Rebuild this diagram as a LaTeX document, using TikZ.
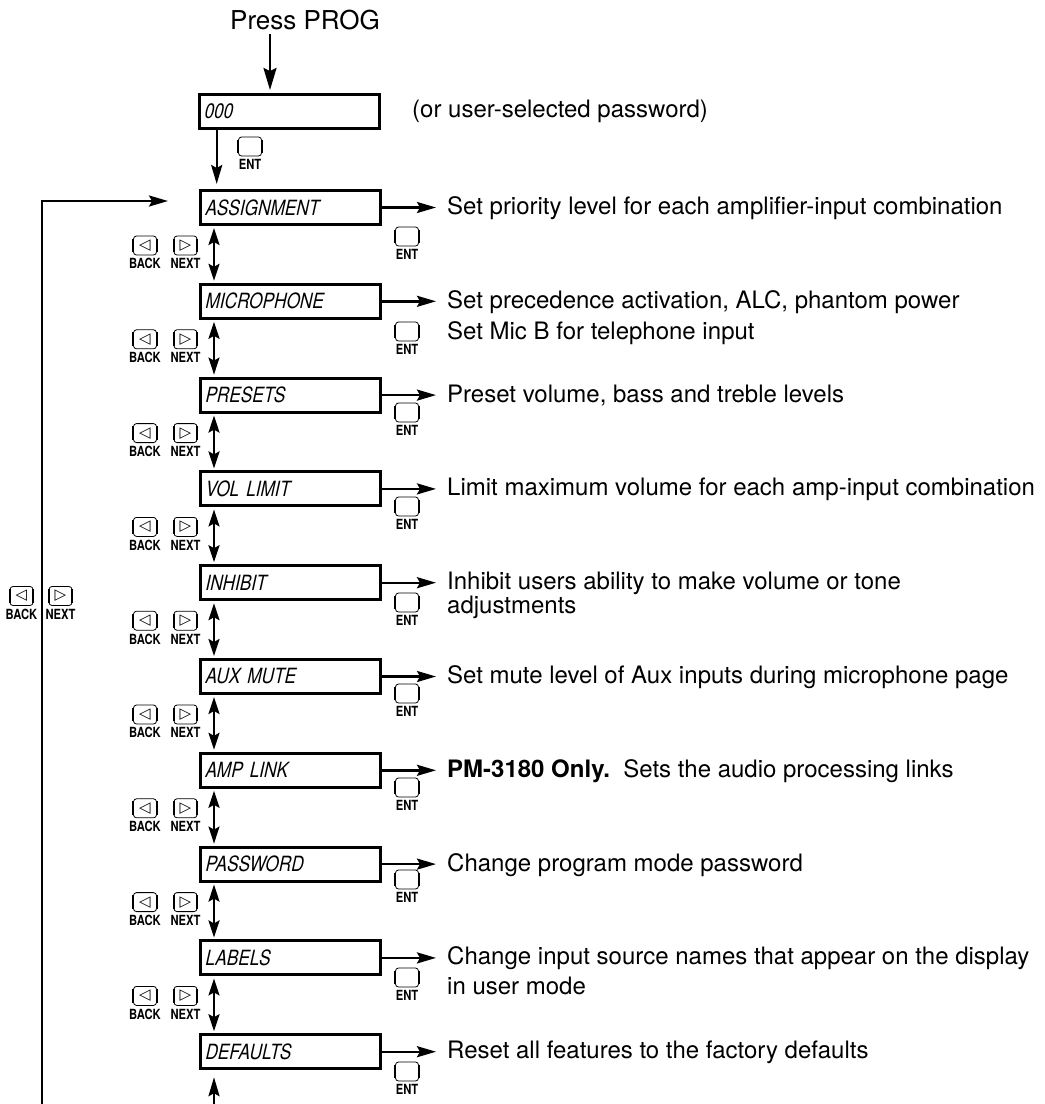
\documentclass[tikz,border=0pt]{standalone}
\usepackage{fontspec}
\setmainfont{TeX Gyre Heros}
\newfontfamily\lcdfont[FakeSlant=0.22,FakeStretch=0.82]{TeX Gyre Heros}
\newfontfamily\keyfont[FakeStretch=0.8]{TeX Gyre Heros}
\newfontfamily\symfont{DejaVu Sans}
\usetikzlibrary{arrows.meta}
\tikzset{
  lcd/.style={draw, line width=3pt, minimum height=34pt, text width=172pt, inner sep=4pt,
    align=left, anchor=north west, font=\lcdfont\fontsize{21}{22}\selectfont},
  desc/.style={anchor=base west, inner sep=0pt, font=\fontsize{24}{29}\selectfont},
  arr/.style={-{Stealth[length=19pt,width=11pt,inset=3pt]}, line width=2.4pt},
  bigarr/.style={-{Stealth[length=22pt,width=13pt,inset=3pt]}, line width=2.4pt},
  darr/.style={{Stealth[length=17pt,width=11pt,inset=3pt]}-{Stealth[length=17pt,width=11pt,inset=3pt]}, line width=2.4pt, shorten <=2pt, shorten >=2pt},
  keybox/.style={draw, rounded corners=3pt, line width=0.8pt, minimum width=23pt, minimum height=19pt,
    inner sep=0pt, font=\symfont\fontsize{15}{15}\selectfont},
  keylbl/.style={anchor=north, inner sep=0pt, font=\keyfont\bfseries\fontsize{14}{14}\selectfont}
}
\newcommand\keyicon[4]{% name, center, glyph, label
  \node[keybox] (#1) at (#2) {#3};
  \draw[line width=2pt] ([yshift=-3pt]#1.north west) -- ([yshift=3pt]#1.south west)
    ([yshift=-3pt]#1.north east) -- ([yshift=3pt]#1.south east);
  \node[keylbl] (#1l) at ([yshift=-3pt]#1.south) {#4};}
\begin{document}
\begin{tikzpicture}[x=1pt,y=-1pt]
\useasboundingbox (0,0) rectangle (1045,1104);
\coordinate (px) at (270,0);
\coordinate (qx) at (216.7,0);
\coordinate (ax) at (214,0);

\node[inner sep=0pt, font=\fontsize{26}{30}\selectfont] (prog) at (305,20) {Press PROG};
\node[lcd] (b0) at (198,93) {000};
\node[desc, anchor=west] (pw) at (412,111) {(or user-selected password)};
\draw[bigarr, shorten >=3pt] (prog.south -| px) ++(0,4) -- (b0.north -| px);
\keyicon{e0}{250,146.5}{}{ENT}

\foreach \i/\t in {1/ASSIGNMENT,2/MICROPHONE,3/PRESETS,4/VOL LIMIT,5/INHIBIT,
                   6/AUX MUTE,7/AMP LINK,8/PASSWORD,9/LABELS,10/DEFAULTS}
  \node[lcd] (b\i) at (199,{189+93.8*(\i-1)}) {\t};

\draw[arr, shorten >=5pt] (b0.south -| qx) -- (b1.north -| qx);

% descriptions
\node[desc] (d1) at (447,{206+8.5}) {Set priority level for each amplifier-input combination};
\node[desc] (d2) at (447,{299.8+8.5}) {Set precedence activation, ALC, phantom power};
\node[desc] (d2b) at (447,{299.8+8.5+31}) {Set Mic B for telephone input};
\node[desc] (d3) at (447,{393.6+8.5}) {Preset volume, bass and treble levels};
\node[desc] (d4) at (447,{487.4+8.5}) {Limit maximum volume for each amp-input combination};
\node[desc] (d5) at (447,{581.2+8.5}) {Inhibit users ability to make volume or tone};
\node[desc] (d5b) at (447,{581.2+8.5+24}) {adjustments};
\node[desc] (d6) at (447,{675+8.5}) {Set mute level of Aux inputs during microphone page};
\node[desc] (d7) at (447,{768.8+8.5}) {\textbf{PM-3180 Only.}\ \ Sets the audio processing links};
\node[desc] (d8) at (447,{862.6+8.5}) {Change program mode password};
\node[desc] (d9) at (447,{956.4+8.5}) {Change input source names that appear on the display};
\node[desc] (d9b) at (447,{956.4+8.5+30}) {in user mode};
\node[desc] (d10) at (447,{1050.2+8.5}) {Reset all features to the factory defaults};

\foreach \i in {1,...,10}
  \draw[arr, shorten >=11pt] (b\i.east) -- (b\i.east -| d\i.west);

% ENT keys
\keyicon{e1}{407,236.5}{}{ENT}
\keyicon{e2}{407,331.5}{}{ENT}
\keyicon{e3}{407,412.5}{}{ENT}
\keyicon{e4}{407,506.5}{}{ENT}
\keyicon{e5}{407,602.5}{}{ENT}
\keyicon{e6}{407,693.5}{}{ENT}
\keyicon{e7}{407,787.5}{}{ENT}
\keyicon{e8}{407,879.5}{}{ENT}
\keyicon{e9}{407,977.5}{}{ENT}
\keyicon{e10}{407,1071.5}{}{ENT}

% back/next between boxes
\foreach \i [evaluate=\i as \j using int(\i+1)] in {1,...,9} {
  \draw[darr] (b\i.south -| ax) -- (b\j.north -| ax);
  \keyicon{k\i a}{145,{189+93.8*(\i-1)+56.5}}{◁}{BACK}
  \keyicon{k\i b}{185.5,{189+93.8*(\i-1)+56.5}}{▷}{NEXT}
}

% loop back
\coordinate (loopbot) at (42,1104);
\coordinate (looptip) at (168,201);
\draw[arr] (loopbot) |- (looptip);
\keyicon{la}{21.5,596}{◁}{BACK}
\keyicon{lb}{60.5,596}{▷}{NEXT}

% incoming arrow below DEFAULTS
\coordinate (botin) at (214,1104);
\draw[arr, shorten >=7pt] (botin) -- (b10.south -| ax);
\end{tikzpicture}
\end{document}
